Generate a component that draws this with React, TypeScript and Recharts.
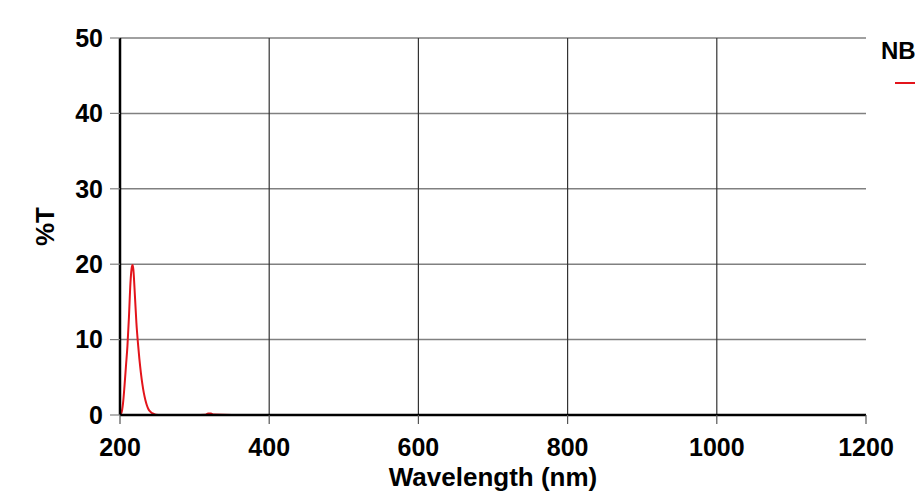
import React from "react";
import {
  LineChart,
  Line,
  XAxis,
  YAxis,
  CartesianGrid,
  ReferenceLine,
  Legend,
} from "recharts";

const wavelengths = [
  200, 202, 204, 206, 208, 210, 212, 214, 216, 217, 218, 220, 222, 224, 226, 228, 230, 232,
  234, 236, 238, 240, 244, 248, 255, 300, 315, 318, 322, 325, 350, 400, 450, 500,
];
const transmission = [
  0, 0.3, 1.5, 3.8, 6.5, 9.2, 13, 17.5, 19.7, 19.9, 19.2, 15.8, 12.2, 9.6, 7.4, 5.6, 4.1,
  2.9, 2.0, 1.3, 0.8, 0.5, 0.2, 0.05, 0, 0, 0.05, 0.2, 0.2, 0.05, 0, 0, 0, 0,
];
const xTicks = [200, 400, 600, 800, 1000, 1200];
const yTicks = [0, 10, 20, 30, 40, 50];
const gridX = [400, 600, 800, 1000];

const data = wavelengths.map((w, i) => ({ wavelength: w, nb: transmission[i] }));

const font = "'Liberation Sans', Arial, sans-serif";

function NbLegend({ payload }: any) {
  return (
    <div style={{ fontFamily: font }}>
      {(payload || []).map((item: any) => (
        <div key={item.value}>
          <div style={{ fontSize: 24, fontWeight: "bold", color: "#000", lineHeight: "28px" }}>
            {item.value}
          </div>
          <div
            style={{
              marginTop: 17,
              marginLeft: 14,
              width: 40,
              height: 2,
              background: item.color,
            }}
          />
        </div>
      ))}
    </div>
  );
}

export default function App() {
  return (
    <div
      style={{
        position: "absolute",
        left: 0,
        top: 0,
        width: 915,
        height: 500,
        overflow: "hidden",
        background: "#fff",
      }}
    >
      <LineChart
        width={915}
        height={500}
        data={data}
        margin={{ top: 38, right: 49, left: 0, bottom: 0 }}
      >
        <CartesianGrid vertical={false} stroke="#808080" strokeWidth={1.5} />
        {gridX.map((x) => (
          <ReferenceLine key={x} x={x} stroke="#333" strokeWidth={1.2} />
        ))}
        <XAxis
          dataKey="wavelength"
          type="number"
          domain={[200, 1200]}
          ticks={xTicks}
          height={85}
          tickSize={9}
          tickMargin={14}
          axisLine={{ stroke: "#000", strokeWidth: 2.5 }}
          tickLine={{ stroke: "#555", strokeWidth: 1.2 }}
          tick={{ fill: "#000", fontSize: 25, fontWeight: "bold", fontFamily: font }}
          label={{
            value: "Wavelength (nm)",
            position: "insideBottom",
            offset: 14,
            fill: "#000",
            fontSize: 26,
            fontWeight: "bold",
            fontFamily: font,
          }}
        />
        <YAxis
          type="number"
          domain={[0, 50]}
          ticks={yTicks}
          width={120}
          tickSize={10}
          tickMargin={7}
          axisLine={{ stroke: "#000", strokeWidth: 2.5 }}
          tickLine={{ stroke: "#808080", strokeWidth: 1.2 }}
          tick={{ fill: "#000", fontSize: 25, fontWeight: "bold", fontFamily: font }}
          label={{
            value: "%T",
            angle: -90,
            position: "insideLeft",
            offset: 45,
            fill: "#000",
            fontSize: 26,
            fontWeight: "bold",
            fontFamily: font,
            style: { textAnchor: "middle" },
          }}
        />
        <Legend
          layout="horizontal"
          align="center"
          verticalAlign="middle"
          content={<NbLegend />}
          wrapperStyle={{ left: 881, top: 37, width: 80 }}
        />
        <Line
          name="NB"
          type="monotone"
          dataKey="nb"
          stroke="#e3141b"
          strokeWidth={2}
          dot={false}
          isAnimationActive={false}
        />
      </LineChart>
    </div>
  );
}
